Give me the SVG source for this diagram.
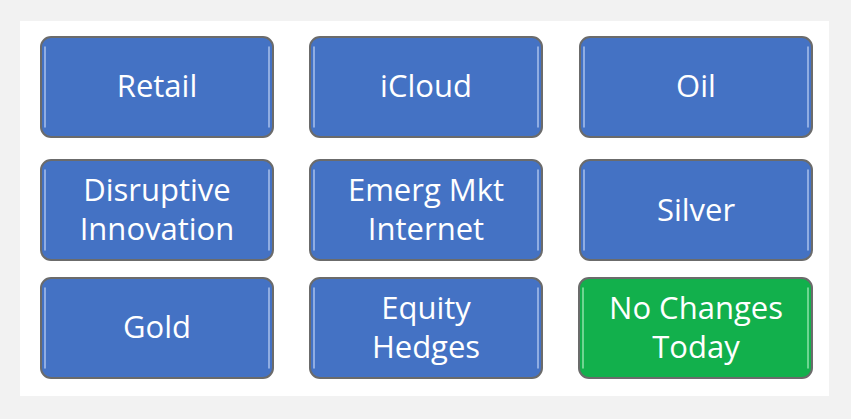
<svg xmlns="http://www.w3.org/2000/svg" width="851" height="419" viewBox="0 0 851 419">
<style>
.box{stroke:#6b6b6b;stroke-width:2}
.blue{fill:#4472c4}
.green{fill:#12b04c}
.hl{fill:none;stroke:#a9c1ec;stroke-width:1.5;stroke-linecap:round}
.hlg{fill:none;stroke:#8fe0a8;stroke-width:1.5;stroke-linecap:round}
text{font-family:"Open Sans","Noto Sans",sans-serif;font-size:31px;fill:#ffffff;text-anchor:middle}
</style>
<rect x="0" y="0" width="851" height="419" fill="#f2f2f2"/>
<rect x="20" y="21" width="809" height="375" fill="#ffffff"/>
<g id="retail"><rect class="box blue" x="41" y="37" width="232" height="100" rx="10"/><path class="hl" d="M45 47V127M269 47V127"/><text x="157" y="97">Retail</text></g>
<g id="icloud"><rect class="box blue" x="310" y="37" width="232" height="100" rx="10"/><path class="hl" d="M314 47V127M538 47V127"/><text x="426" y="97">iCloud</text></g>
<g id="oil"><rect class="box blue" x="580" y="37" width="232" height="100" rx="10"/><path class="hl" d="M584 47V127M808 47V127"/><text x="696" y="97">Oil</text></g>
<g id="disruptive"><rect class="box blue" x="41" y="160" width="232" height="100" rx="10"/><path class="hl" d="M45 170V250M269 170V250"/><text x="157" y="201">Disruptive</text><text x="157" y="240">Innovation</text></g>
<g id="emerg"><rect class="box blue" x="310" y="160" width="232" height="100" rx="10"/><path class="hl" d="M314 170V250M538 170V250"/><text x="426" y="201">Emerg Mkt</text><text x="426" y="240">Internet</text></g>
<g id="silver"><rect class="box blue" x="580" y="160" width="232" height="100" rx="10"/><path class="hl" d="M584 170V250M808 170V250"/><text x="696" y="221">Silver</text></g>
<g id="gold"><rect class="box blue" x="41" y="278" width="232" height="100" rx="10"/><path class="hl" d="M45 288V368M269 288V368"/><text x="157" y="338">Gold</text></g>
<g id="equity"><rect class="box blue" x="310" y="278" width="232" height="100" rx="10"/><path class="hl" d="M314 288V368M538 288V368"/><text x="426" y="319">Equity</text><text x="426" y="358">Hedges</text></g>
<g id="nochanges"><rect class="box green" x="579" y="278" width="233" height="100" rx="10"/><path class="hlg" d="M583 288V368M808 288V368"/><text x="696" y="319">No Changes</text><text x="696" y="358">Today</text></g>
<g id="connectors"></g>
</svg>
